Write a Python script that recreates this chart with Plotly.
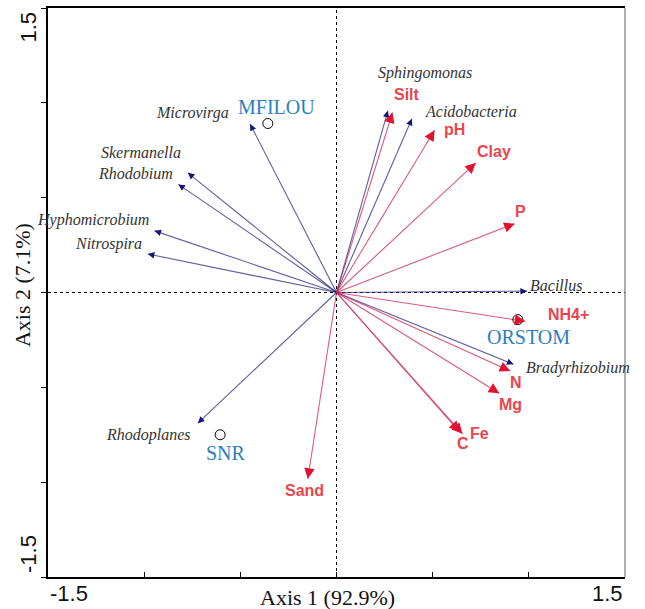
import plotly.graph_objects as go

# ---------------- data ----------------
species = ["Microvirga", "Skermanella", "Rhodobium", "Hyphomicrobium", "Nitrospira",
           "Rhodoplanes", "Sphingomonas", "Acidobacteria", "Bacillus", "Bradyrhizobium"]
species_ax1 = [-0.449, -0.773, -0.822, -0.946, -0.981, -0.721, 0.267, 0.392, 0.990, 0.920]
species_ax2 = [0.888, 0.631, 0.570, 0.325, 0.203, -0.689, 0.958, 0.916, 0.007, -0.378]

env_vars = ["Silt", "pH", "Clay", "P", "NH4+", "N", "Mg", "Fe", "C", "Sand"]
env_ax1 = [0.291, 0.510, 0.724, 0.926, 0.981, 0.903, 0.846, 0.655, 0.640, -0.149]
env_ax2 = [0.949, 0.855, 0.683, 0.363, -0.152, -0.414, -0.531, -0.745, -0.735, -0.982]

sites = ["MFILOU", "ORSTOM", "SNR"]
site_ax1 = [-0.357, 0.943, -0.605]
site_ax2 = [0.891, -0.143, -0.750]

tick_vals = [-1.5, -1.0, -0.5, 0.0, 0.5, 1.0, 1.5]
axis1_title = "Axis 1 (92.9%)"
axis2_title = "Axis 2 (7.1%)"

# ---------------- label placement (pixel offsets from arrow tips) ----------------
species_offsets = [(-58, 11), (-47, 20), (-43, 11), (-62, 11), (-39, 10),
                   (-49, -12), (37, 38), (59, 7), (29, 6), (65, -4)]
env_offsets = [(15, 18), (20, 1), (18, 11), (6, 12), (43, 7),
               (6, -11), (11, -11), (17, 0), (3, -12), (-3, -12)]
site_offsets = [(9, 17), (11, -17), (6, -18)]

BLUE_SHAFT = "rgba(40,40,125,0.75)"
BLUE_HEAD = "#14147a"
RED_SHAFT = "rgba(205,35,80,0.75)"
RED_HEAD = "#e3102f"
SPECIES_TXT = "#333333"
ENV_TXT = "#e8464d"
SITE_TXT = "#2b7fc0"
SERIF = "Liberation Serif, Times New Roman, serif"
SANS = "Liberation Sans, Arial, sans-serif"

fig = go.Figure()


def shaft_xy(xs, ys):
    lx, ly = [], []
    for a, b in zip(xs, ys):
        lx += [0, a, None]
        ly += [0, b, None]
    return lx, ly


sx, sy = shaft_xy(species_ax1, species_ax2)
fig.add_trace(go.Scatter(x=sx, y=sy, mode="lines", line=dict(color=BLUE_SHAFT, width=1.1),
                         hoverinfo="skip", showlegend=False))
ex, ey = shaft_xy(env_ax1, env_ax2)
fig.add_trace(go.Scatter(x=ex, y=ey, mode="lines", line=dict(color=RED_SHAFT, width=1.1),
                         hoverinfo="skip", showlegend=False))

fig.add_trace(go.Scatter(x=site_ax1, y=site_ax2, mode="markers",
                         marker=dict(symbol="circle-open", size=10, color="black",
                                     line=dict(width=1, color="black")),
                         hoverinfo="skip", showlegend=False))

annotations = []
# arrow heads
for a, b in zip(species_ax1, species_ax2):
    annotations.append(dict(x=a, y=b, ax=a * 0.97, ay=b * 0.97, xref="x", yref="y",
                            axref="x", ayref="y", text="", showarrow=True, arrowhead=2,
                            arrowsize=1.3, arrowwidth=1, arrowcolor=BLUE_HEAD, standoff=0))
for a, b in zip(env_ax1, env_ax2):
    annotations.append(dict(x=a, y=b, ax=a * 0.96, ay=b * 0.96, xref="x", yref="y",
                            axref="x", ayref="y", text="", showarrow=True, arrowhead=2,
                            arrowsize=1.9, arrowwidth=1.1, arrowcolor=RED_HEAD, standoff=0))

# labels
for name, a, b, (dx, dy) in zip(species, species_ax1, species_ax2, species_offsets):
    annotations.append(dict(x=a, y=b, xref="x", yref="y", text="<i>" + name + "</i>",
                            showarrow=False, xshift=dx, yshift=dy,
                            font=dict(family=SERIF, size=16, color=SPECIES_TXT)))
for name, a, b, (dx, dy) in zip(env_vars, env_ax1, env_ax2, env_offsets):
    annotations.append(dict(x=a, y=b, xref="x", yref="y", text="<b>" + name + "</b>",
                            showarrow=False, xshift=dx, yshift=dy,
                            font=dict(family=SANS, size=16, color=ENV_TXT)))
for name, a, b, (dx, dy) in zip(sites, site_ax1, site_ax2, site_offsets):
    annotations.append(dict(x=a, y=b, xref="x", yref="y", text=name,
                            showarrow=False, xshift=dx, yshift=dy,
                            font=dict(family=SERIF, size=20, color=SITE_TXT)))

# end tick labels (inside-aligned like the reference)
tick_font = dict(family=SANS, size=22, color="#111111")
annotations += [
    dict(x=0, y=0, xref="paper", yref="paper", text=f"{tick_vals[0]:g}", showarrow=False,
         xanchor="left", yanchor="top", yshift=-2, font=tick_font),
    dict(x=1, y=0, xref="paper", yref="paper", text=f"{tick_vals[-1]:g}", showarrow=False,
         xanchor="right", yanchor="top", yshift=-2, font=tick_font),
    dict(x=0, y=1, xref="paper", yref="paper", text=f"{tick_vals[-1]:g}", showarrow=False,
         xanchor="center", yanchor="top", xshift=-20, yshift=-2, textangle=-90, font=tick_font),
    dict(x=0, y=0, xref="paper", yref="paper", text=f"{tick_vals[0]:g}", showarrow=False,
         xanchor="center", yanchor="bottom", xshift=-20, yshift=2, textangle=-90, font=tick_font),
    dict(x=0.485, y=0, xref="paper", yref="paper", text=axis1_title, showarrow=False,
         xanchor="center", yanchor="middle", yshift=-20,
         font=dict(family=SERIF, size=22, color="#111111")),
    dict(x=0, y=0.513, xref="paper", yref="paper", text=axis2_title, showarrow=False,
         xanchor="center", yanchor="middle", xshift=-26, textangle=-90,
         font=dict(family=SERIF, size=22, color="#111111")),
]

shapes = [
    dict(type="line", xref="x", yref="paper", x0=0, x1=0, y0=0, y1=1,
         line=dict(color="black", width=1, dash="3px,3px"), layer="below"),
    dict(type="line", xref="paper", yref="y", x0=0, x1=1, y0=0, y1=0,
         line=dict(color="black", width=1, dash="3px,3px"), layer="below"),
    dict(type="line", xref="paper", yref="paper", x0=1, x1=1, y0=0, y1=1,
         line=dict(color="#777777", width=1.2)),
]

fig.update_layout(
    width=645, height=609,
    margin=dict(l=48, r=20, t=6, b=32),
    paper_bgcolor="white", plot_bgcolor="white",
    showlegend=False,
    annotations=annotations,
    shapes=shapes,
    xaxis=dict(range=[-1.5, 1.5], tickvals=tick_vals, showticklabels=False,
               ticks="inside", ticklen=5, tickcolor="black", showgrid=False, zeroline=False,
               showline=True, linecolor="black", linewidth=1.5, mirror=True),
    yaxis=dict(range=[-1.5, 1.5], tickvals=tick_vals, showticklabels=False,
               ticks="outside", ticklen=5, tickcolor="black", showgrid=False, zeroline=False,
               showline=True, linecolor="black", linewidth=1.5),
)

fig.write_html("out.html", config={"displayModeBar": False},
               post_script="document.body.style.margin='0';")
